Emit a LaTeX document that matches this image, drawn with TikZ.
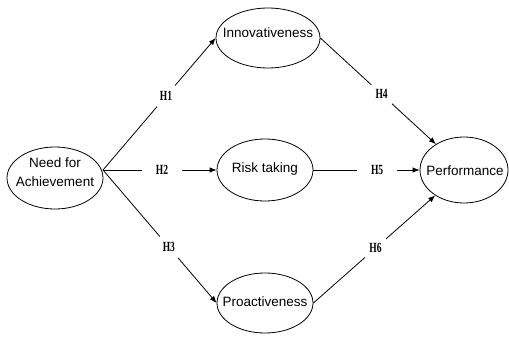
\documentclass[tikz,border=0pt]{standalone}
\usepackage{fontspec}
\setmainfont{Liberation Sans}
\newfontfamily\hfont[FakeStretch=0.68]{Liberation Serif}
\usetikzlibrary{arrows.meta,shapes.geometric}
\begin{document}
\begin{tikzpicture}[x=1pt,y=-1pt,
  ell/.style={draw,ellipse,line width=0.8pt,inner sep=0pt},
  txt/.style={font=\fontsize{13.5}{19.5}\selectfont,align=center,inner sep=0pt},
  lab/.style={circle,fill=white,inner sep=0pt,minimum size=#1,font=\hfont\bfseries\fontsize{14}{14}\selectfont},
  lab/.default=28pt,
  conn/.style={line width=0.8pt,-{Latex[length=7pt,width=5.5pt]}}
]
\useasboundingbox (0,0) rectangle (509,337);
\node[ell,minimum width=96pt,minimum height=62pt] (nfa) at (55,178) {};
\node[txt] (nfat) at (55,172) {Need for\\Achievement};
\node[ell,minimum width=104pt,minimum height=60pt] (inno) at (268,38) {};
\node[txt] (innot) at (268,33) {Innovativeness};
\node[ell,minimum width=96pt,minimum height=62pt] (risk) at (265,170) {};
\node[txt] (riskt) at (265,169) {Risk taking};
\node[ell,minimum width=96pt,minimum height=60pt] (pro) at (265,303) {};
\node[txt] (prot) at (265,302) {Proactiveness};
\node[ell,minimum width=88pt,minimum height=66pt] (perf) at (464,170) {};
\node[txt] (perft) at (465,171) {Performance};
\coordinate (src) at (103,170);
\draw[conn] (src) -- node[lab,pos=0.56] (h1) {H1} (inno.west);
\draw[conn] (src) -- node[lab=40pt,pos=0.52] (h2) {H2} (risk.west);
\draw[conn] (src) -- node[lab,pos=0.58] (h3) {H3} (pro.west);
\draw[conn] (inno.east) -- node[lab,pos=0.53] (h4) {H4} (perf);
\draw[conn] (risk.east) -- node[lab=40pt,pos=0.6] (h5) {H5} (perf.west);
\draw[conn] (pro.east) -- node[lab,pos=0.51] (h6) {H6} (perf);
\end{tikzpicture}
\end{document}
